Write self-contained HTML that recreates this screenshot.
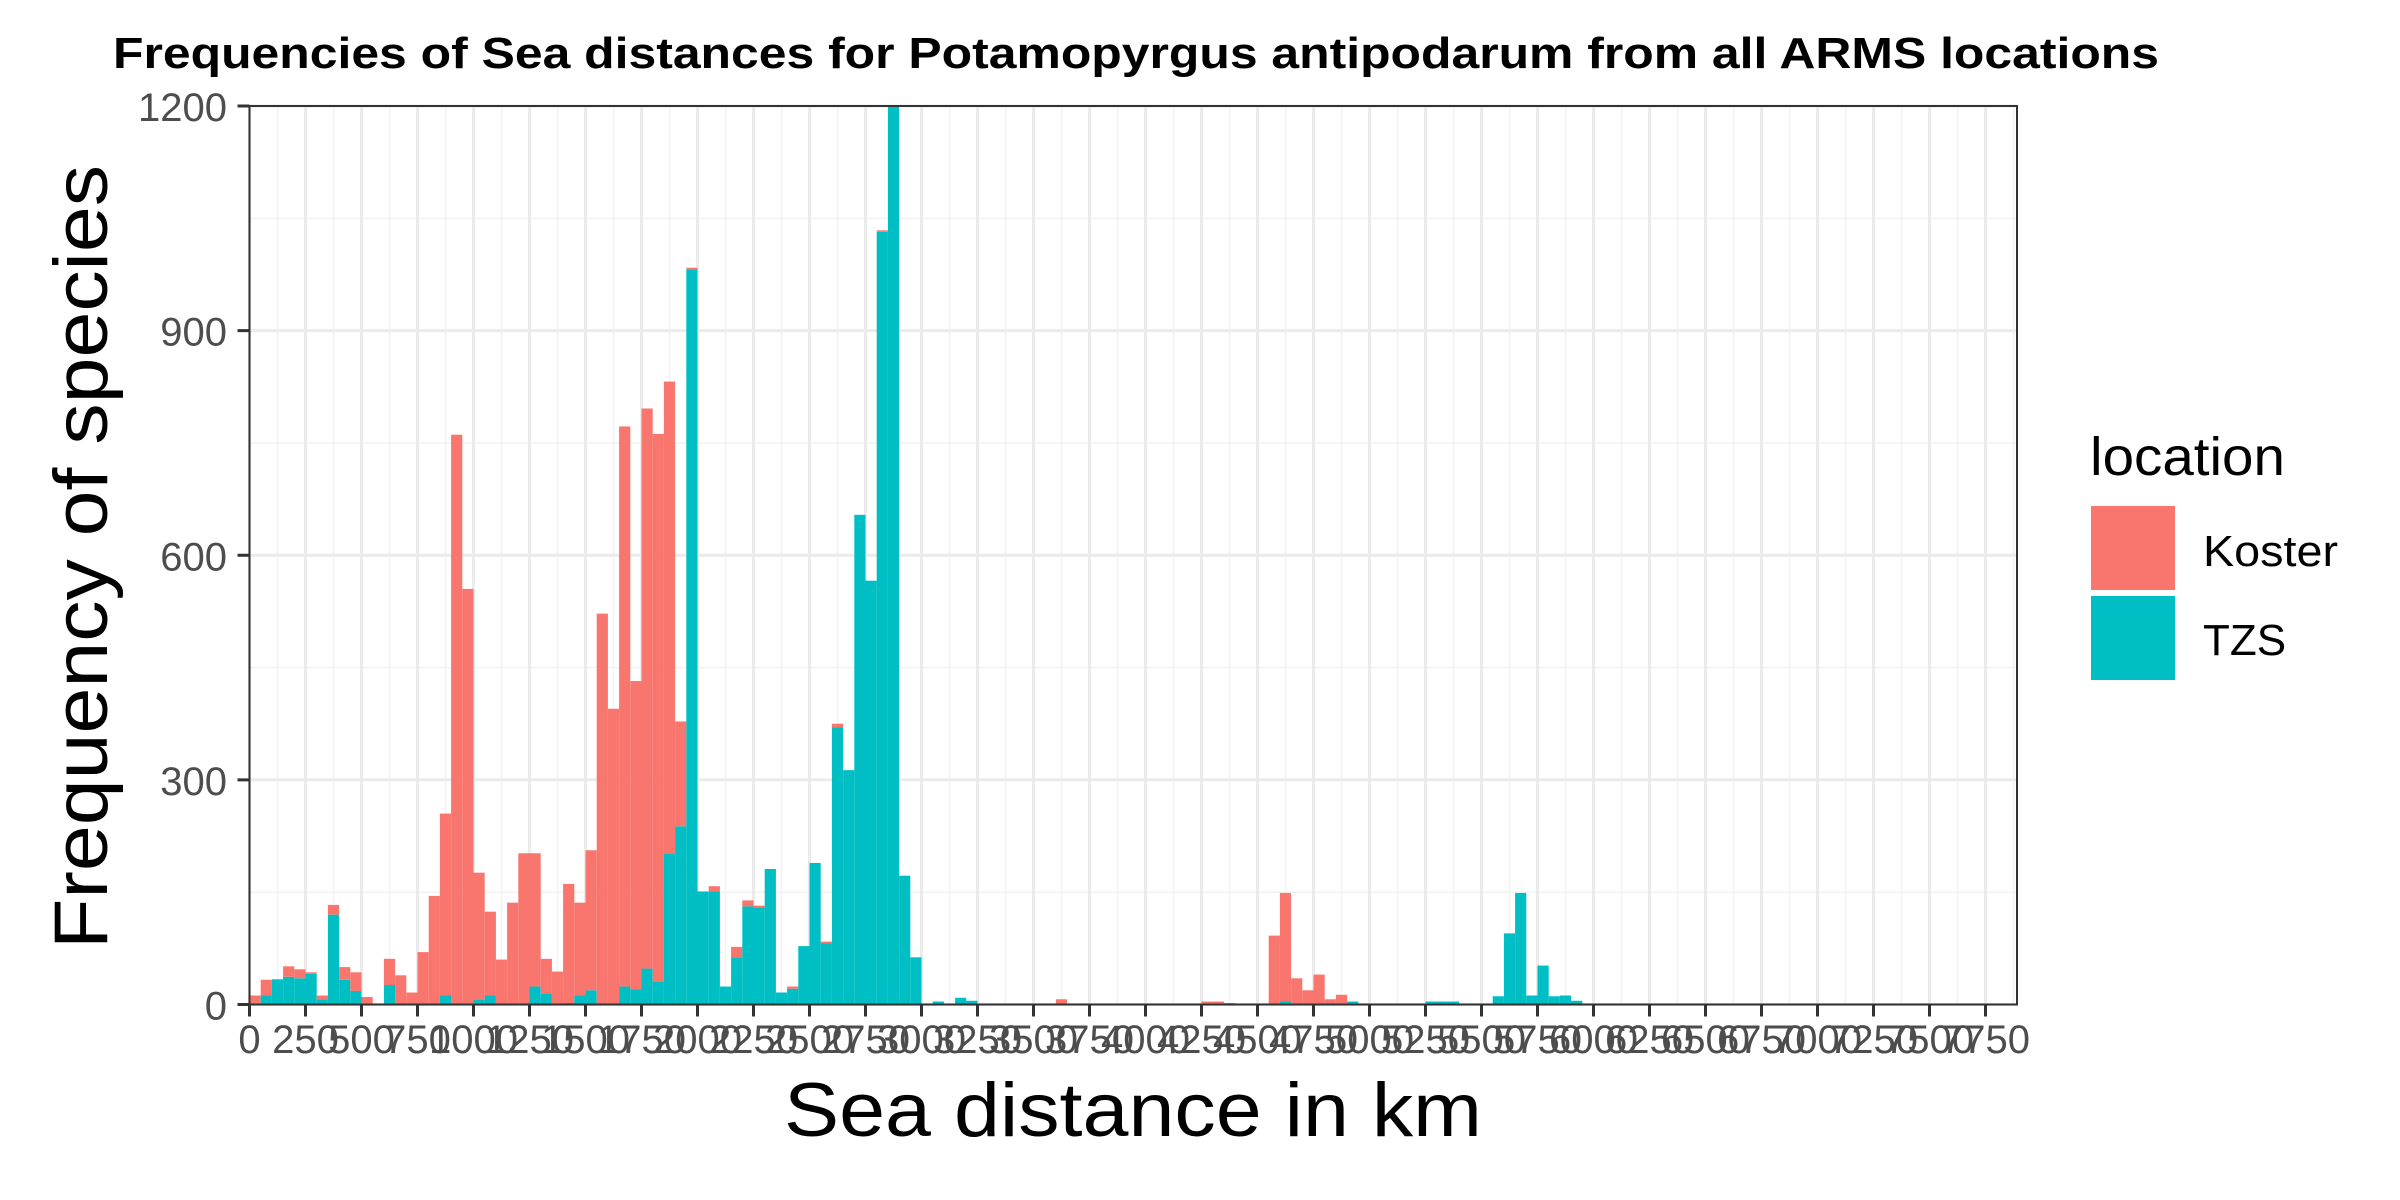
<!DOCTYPE html>
<html><head><meta charset="utf-8">
<style>
html,body{margin:0;padding:0;background:#fff;}
svg{display:block;font-family:"Liberation Sans","DejaVu Sans",sans-serif;}
</style></head>
<body>
<svg id="chart" width="2400" height="1200" viewBox="0 0 2400 1200" xmlns="http://www.w3.org/2000/svg">
<defs><clipPath id="pc"><rect x="249.5" y="106" width="1767.5" height="898.5"/></clipPath></defs>
<rect x="0" y="0" width="2400" height="1200" fill="#fff"/>
<g id="grid"></g>
<g id="bars" clip-path="url(#pc)"></g>
<rect x="249.5" y="106" width="1767.5" height="898.5" fill="none" stroke="#333" stroke-width="2"/>
<g id="axes"></g>
<text x="113" y="68" font-size="44" font-weight="bold" textLength="2046" lengthAdjust="spacingAndGlyphs" fill="#000">Frequencies of Sea distances for Potamopyrgus antipodarum from all ARMS locations</text>
<text x="784" y="1136" font-size="76" textLength="698" lengthAdjust="spacingAndGlyphs" fill="#000">Sea distance in km</text>
<text transform="translate(107,949) rotate(-90)" x="0" y="0" font-size="76" textLength="784" lengthAdjust="spacingAndGlyphs" fill="#000">Frequency of species</text>
<g>
<text x="2090" y="475" font-size="54" textLength="195" lengthAdjust="spacingAndGlyphs" fill="#000">location</text>
<rect x="2091" y="506" width="84" height="84" fill="#F8766D"/>
<rect x="2091" y="596" width="84" height="84" fill="#00BFC4"/>
<text x="2203" y="566" font-size="44" textLength="135" lengthAdjust="spacingAndGlyphs" fill="#000">Koster</text>
<text x="2203" y="655" font-size="44" fill="#000">TZS</text>
</g>
</svg>
<script>
const binWidthKm = 50;
const kosterCounts = [
12,21,1,14,12,2,5,13,17,25,
10,0,35,39,16,70,145,243,760,555,
170,112,60,136,202,178,47,44,159,124,
187,522,395,748,412,748,731,630,140,2,
0,7,0,14,8,2,0,0,3,0,
0,2,5,0,0,0,2,0,0,0,
0,0,0,0,0,0,0,0,0,0,
0,0,7,0,0,0,0,0,0,0,
0,1,0,0,0,4,4,2,0,0,
1,92,145,35,19,40,7,13,0,1,
0,0,0,0,0,0,0,0,0,0,
0,0,0,0,0,0,0,0,0,0];
const tzsCounts = [
0,12,33,37,35,41,7,120,33,18,
0,0,26,0,0,0,0,12,1,0,
6,12,0,0,0,24,14,0,2,12,
19,0,0,24,20,48,31,202,238,982,
151,151,24,63,131,130,181,16,21,78,
189,82,370,313,654,566,1032,1230,172,63,
1,4,0,9,5,0,0,0,0,0,
0,0,0,0,0,0,0,0,0,0,
0,0,0,0,0,0,0,0,0,0,
0,0,4,0,0,0,0,0,4,0,
0,0,0,0,0,4,4,4,0,0,
1,11,95,149,12,52,11,12,5,0];
const xTickValues = [0,250,500,750,1000,1250,1500,1750,2000,2250,2500,2750,3000,3250,3500,3750,4000,4250,4500,4750,5000,5250,5500,5750,6000,6250,6500,6750,7000,7250,7500,7750];
const yTickValues = [0,300,600,900,1200];

const NS="http://www.w3.org/2000/svg";
const L=249.5,R=2017,T=106,B=1004.5;
const xKmMin=0,xKmMax=(R-L)/0.224;
const yMax=1200;
function xs(v){return L+(v-xKmMin)/(xKmMax-xKmMin)*(R-L);}
function ys(v){return B-v/yMax*(B-T);}
function mk(tag,attrs,parent){const e=document.createElementNS(NS,tag);for(const k in attrs)e.setAttribute(k,attrs[k]);parent.appendChild(e);return e;}
const grid=document.getElementById('grid'),bars=document.getElementById('bars'),axes=document.getElementById('axes');
mk('rect',{x:L,y:T,width:R-L,height:B-T,fill:'#fff'},grid);
// minor grid
for(let i=0;i<xTickValues.length;i++){const v=xTickValues[i]+125;const x=xs(v);if(x<R){const l=mk('line',{x1:x,x2:x,y1:T,y2:B,stroke:'#f2f2f2','stroke-width':1.5},grid);}}
for(let i=0;i<yTickValues.length-1;i++){const y=ys(yTickValues[i]+150);const l=mk('line',{x1:L,x2:R,y1:y,y2:y,stroke:'#f2f2f2','stroke-width':1.5},grid);}
xTickValues.forEach(v=>{const x=xs(v);const l=mk('line',{x1:x,x2:x,y1:T,y2:B,stroke:'#ebebeb','stroke-width':3},grid);});
yTickValues.forEach(v=>{const y=ys(v);const l=mk('line',{x1:L,x2:R,y1:y,y2:y,stroke:'#ebebeb','stroke-width':3},grid);});
// bars
for(let i=0;i<kosterCounts.length;i++){
  const x0=xs(i*binWidthKm),x1=xs((i+1)*binWidthKm);
  const t=tzsCounts[i]||0,k=kosterCounts[i]||0;
  if(t>0){const r=mk('rect',{x:x0,y:ys(t),width:x1-x0,height:ys(0)-ys(t),fill:'#00BFC4'},bars);
    
    }
  if(k>0){const r=mk('rect',{x:x0,y:ys(t+k),width:x1-x0,height:ys(t)-ys(t+k),fill:'#F8766D'},bars);
    
    }
}
// ticks
xTickValues.forEach(v=>{const x=xs(v);
  const tk=mk('line',{x1:x,x2:x,y1:B,y2:B+12,stroke:'#333','stroke-width':3},axes);
  
  
  const t=mk('text',{x:x,y:1053,'text-anchor':'middle','font-size':40,fill:'#4d4d4d'},axes);t.textContent=String(v);
  
  });
yTickValues.forEach(v=>{const y=ys(v);
  const tk=mk('line',{x1:L-12,x2:L,y1:y,y2:y,stroke:'#333','stroke-width':3},axes);
  
  
  const t=mk('text',{x:227,y:y+15,'text-anchor':'end','font-size':40,fill:'#4d4d4d'},axes);t.textContent=String(v);
  
  });
</script>
</body></html>
